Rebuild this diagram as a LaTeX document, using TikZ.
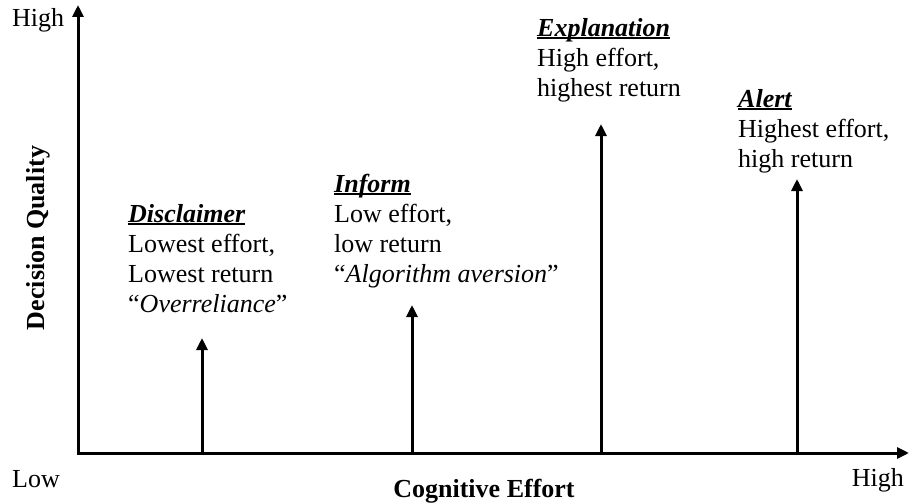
\documentclass[tikz,border=0pt]{standalone}
\usepackage{fontspec}
\setmainfont{Liberation Serif}
\usetikzlibrary{arrows.meta}

% bold italic heading with a thick underline
\newcommand\headline[1]{\setbox0\hbox{\bfseries\itshape #1}\rlap{\rule[-3pt]{\wd0}{2pt}}\box0}

\begin{document}
\begin{tikzpicture}[x=1pt,y=-1pt,
  txt/.style={font=\fontsize{26}{30}\selectfont, inner sep=0pt},
  blk/.style={txt, align=left, anchor=base west},% base = baseline of the last line
  arr/.style={line width=3pt, -{Triangle[width=11pt,length=12pt]}},
  axis/.style={line width=3pt, {Triangle[width=11pt,length=12pt]}-{Triangle[width=11pt,length=12pt]}}]
\useasboundingbox (0,0) rectangle (911,503);

% axes
\coordinate (o) at (78,453);
\coordinate (ytip) at (78,5);
\coordinate (xtip) at (909,453);
\draw[axis] (ytip) -- (o) -- (xtip);

% axis labels
\node[txt, anchor=base west] (yhigh) at (12,27) {High};
\node[txt, anchor=base west] (xlow) at (12,487) {Low};
\node[txt, anchor=base east] (xhigh) at (904,486) {High};
\node[txt, anchor=base, font=\fontsize{26}{30}\selectfont\bfseries] (xlab) at (484,497) {Cognitive Effort};
\node[txt, anchor=base, rotate=90, font=\fontsize{26}{30}\selectfont\bfseries] (ylab) at (45,238) {Decision Quality};

% strategy levels
\coordinate (b1) at (202,453); \coordinate (t1) at (202,338);
\coordinate (b2) at (412,453); \coordinate (t2) at (412,305);
\coordinate (b3) at (601,453); \coordinate (t3) at (601,124);
\coordinate (b4) at (797,453); \coordinate (t4) at (797,179);
\draw[arr] (b1) -- (t1);
\draw[arr] (b2) -- (t2);
\draw[arr] (b3) -- (t3);
\draw[arr] (b4) -- (t4);

% descriptions
\node[blk] (disc) at (128,312) {\headline{Disclaimer}\\Lowest effort,\\Lowest return\\“\textit{Overreliance}”};
\node[blk] (inf) at (334,282) {\headline{Inform}\\Low effort,\\low return\\“\textit{Algorithm aversion}”};
\node[blk] (expl) at (537,96) {\headline{Explanation}\\High effort,\\highest return};
\node[blk] (alrt) at (738,167) {\headline{Alert}\\Highest effort,\\high return};
\end{tikzpicture}
\end{document}
